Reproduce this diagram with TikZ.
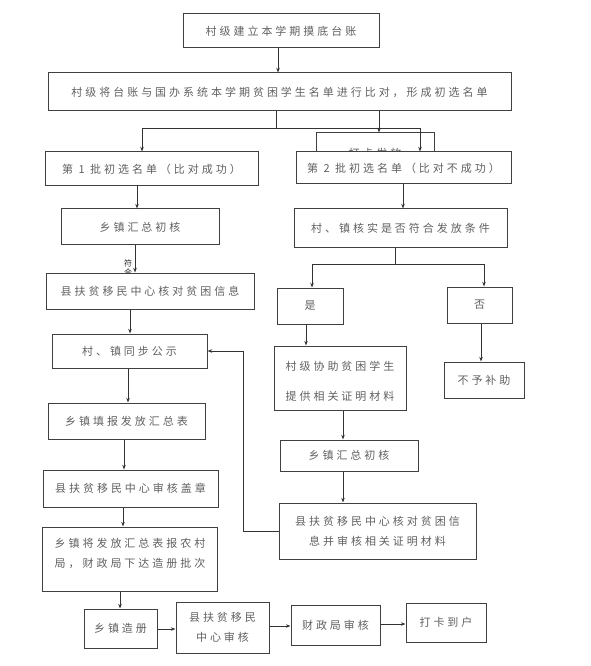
\documentclass[tikz,border=0pt]{standalone}
\usepackage{fontspec}
\newfontfamily\cjk[LetterSpace=27]{Noto Sans CJK SC}
\usetikzlibrary{arrows.meta}
\begin{document}
\begin{tikzpicture}[x=0.75pt,y=-0.75pt,
  box/.style={draw=black!75, line width=0.75pt, fill=white, inner sep=0pt,
    font=\cjk\fontsize{8.25pt}{15pt}\selectfont, text=black!62, align=center},
  sz/.style 2 args={minimum width=#1*0.75pt, minimum height=#2*0.75pt},
  txt/.style={inner sep=0pt, font=\cjk\fontsize{8.25pt}{15pt}\selectfont, text=black!62, align=center},
  small/.style={inner sep=0pt, font=\cjk\fontsize{6pt}{6.75pt}\selectfont, text=black!85, align=center},
  conn/.style={draw=black!80, line width=0.6pt},
  arr/.style={conn, -{Stealth[length=3.5pt,width=2.6pt]}}]
\useasboundingbox (0,0) rectangle (590,666);
\fill[white] (0,0) rectangle (590,666);

\node[box, sz={196}{34}] (n1) at (281,31) {村级建立本学期摸底台账};
\node[box, sz={463}{38}] (n2) at (279.5,92) {村级将台账与国办系统本学期贫困学生名单进行比对，形成初选名单};

\node[box, sz={118}{39}] (hid) at (375,152.5) {};
\node[txt] (hidtxt) at (375,153) {打卡发放};

\node[box, sz={213}{34}] (b11) at (151.5,169) {第 1 批初选名单（比对成功）};
\node[box, sz={215}{32}] (b21) at (403.5,168) {第 2 批初选名单（比对不成功）};
\node[box, sz={158}{36}] (b12) at (140,227) {乡镇汇总初核};
\node[box, sz={213}{39}] (b22) at (400.5,228.5) {村、镇核实是否符合发放条件};
\node[small] (fuhe) at (128,267.5) {符\\合};
\node[box, sz={208}{36}] (b13) at (150,291) {县扶贫移民中心核对贫困信息};
\node[box, sz={66}{36}] (yes) at (310,306) {是};
\node[box, sz={65}{36}] (no) at (479.5,305) {否};
\node[box, sz={155}{34}] (b14) at (129.5,351) {村、镇同步公示};
\node[box, sz={132}{64}] (b23) at (340,378) {};
\node[txt] (b23txt) at (340,381.5) {村级协助贫困学生\\[7.5pt]提供相关证明材料};
\node[box, sz={80}{36}] (nono) at (484,380) {不予补助};
\node[box, sz={157}{36}] (b15) at (126.5,421) {乡镇填报发放汇总表};
\node[box, sz={138}{31}] (b24) at (349,455.5) {乡镇汇总初核};
\node[box, sz={175}{37}] (b16) at (130.5,488.5) {县扶贫移民中心审核盖章};
\node[box, sz={197}{56}] (b25) at (377.5,531) {县扶贫移民中心核对贫困信\\息并审核相关证明材料};
\node[box, sz={175}{64}] (b17) at (129.5,559) {};
\node[txt] (b17txt) at (130,553) {乡镇将发放汇总表报农村\\局，财政局下达造册批次};
\node[box, sz={73}{39}] (c1) at (120.5,628.5) {乡镇造册};
\node[box, sz={93}{51}] (c2) at (222.5,627.5) {县扶贫移民\\中心审核};
\node[box, sz={89}{40}] (c3) at (335.5,625) {财政局审核};
\node[box, sz={80}{39}] (c4) at (446,622.5) {打卡到户};

\coordinate (jL) at (142,128);
\coordinate (jR) at (420,128);
\coordinate (jY) at (312,264);
\coordinate (jN) at (484,264);
\coordinate (jB) at (243,531);
\coordinate (jT) at (243,351);

\draw[arr] (278,0 |- n1.south) -- (278,0 |- n2.north);
\draw[conn] (276,0 |- n2.south) -- (276,0 |- jL);
\draw[arr] (jR) -- (jL) -- (jL |- b11.north);
\draw[arr] (jR) -- (jR |- b21.north);
\draw[arr] (379,0 |- n2.south) -- (379,0 |- hid.north);

\draw[arr] (137,0 |- b11.south) -- (137,0 |- b12.north);
\draw[arr] (135,0 |- b12.south) -- (135,0 |- b13.north);
\draw[arr] (130,0 |- b13.south) -- (130,0 |- b14.north);
\draw[arr] (128,0 |- b14.south) -- (128,0 |- b15.north);
\draw[arr] (124,0 |- b15.south) -- (124,0 |- b16.north);
\draw[arr] (123,0 |- b16.south) -- (123,0 |- b17.north);
\draw[arr] (120,0 |- b17.south) -- (120,0 |- c1.north);
\draw[arr] (c1.east |- 0,629) -- (c2.west |- 0,629);
\draw[arr] (c2.east |- 0,626) -- (c3.west |- 0,626);
\draw[arr] (c3.east |- 0,624) -- (c4.west |- 0,624);

\draw[arr] (403,0 |- b21.south) -- (403,0 |- b22.north);
\draw[conn] (395,0 |- b22.south) -- (395,0 |- jY);
\draw[arr] (jN) -- (jY) -- (jY |- yes.north);
\draw[arr] (jY) -- (jN) -- (jN |- no.north);
\draw[arr] (306,0 |- yes.south) -- (306,0 |- b23.north);
\draw[arr] (481,0 |- no.south) -- (481,0 |- nono.north);
\draw[arr] (343,0 |- b23.south) -- (343,0 |- b24.north);
\draw[arr] (343,0 |- b24.south) -- (343,0 |- b25.north);
\draw[arr] (b25.west |- jB) -- (jB) -- (jT) -- (b14.east |- jT);
\end{tikzpicture}
\end{document}
